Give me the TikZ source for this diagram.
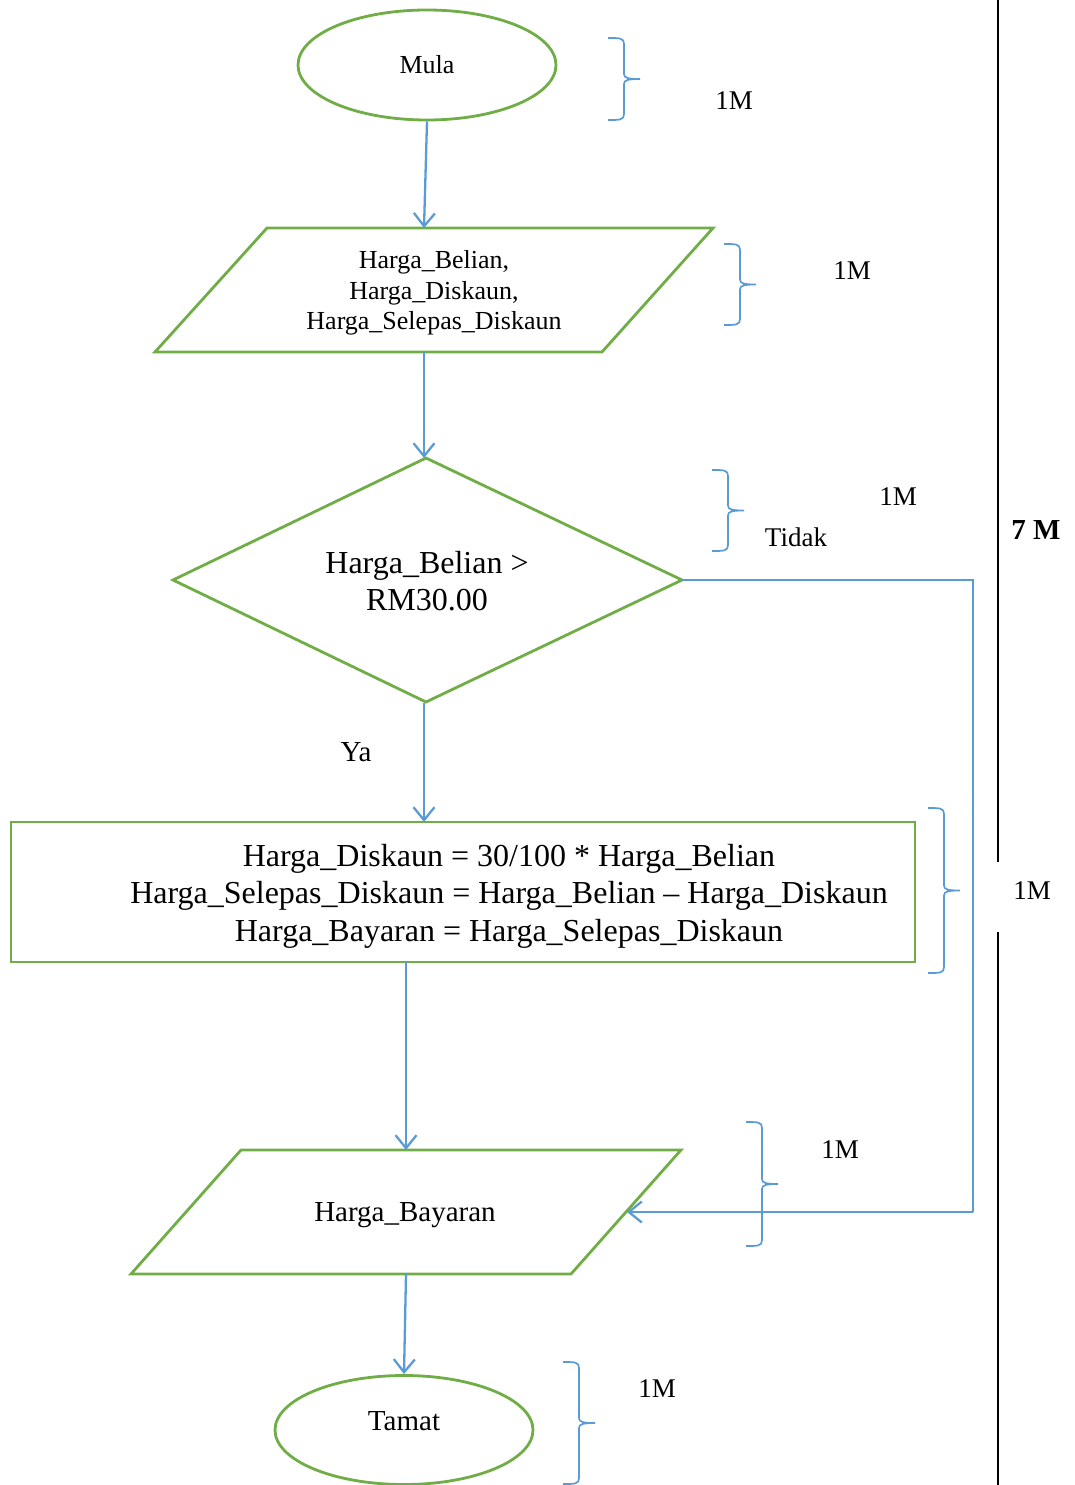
\documentclass[tikz,border=0pt]{standalone}
\usepackage{fontspec}
\setmainfont{Liberation Serif}
\usetikzlibrary{arrows.meta,shapes.geometric}
\definecolor{fgreen}{HTML}{70AD47}
\definecolor{fblue}{HTML}{5B9BD5}
\newcommand{\markbrace}[3]{% left x, top y, bottom y
  \pgfmathsetmacro{\bm}{(#2+#3)/2}
  \draw[bracepath] (#1,#2) .. controls ({#1+12},#2) and ({#1+16},#2) .. ({#1+16},{#2+6})
    -- ({#1+16},{\bm-5}) .. controls ({#1+16},{\bm-1}) and ({#1+20},\bm) .. ({#1+32},\bm)
    .. controls ({#1+20},\bm) and ({#1+16},{\bm+1}) .. ({#1+16},{\bm+5})
    -- ({#1+16},{#3-6}) .. controls ({#1+16},#3) and ({#1+12},#3) .. (#1,#3);
}
\begin{document}
\begin{tikzpicture}[x=1pt,y=-1pt,
  shapeline/.style={draw=fgreen,line width=2.8pt},
  flow/.style={draw=fblue,line width=2.3pt,-{Straight Barb[length=13pt,width=21pt,line width=2.3pt]}},
  sideflow/.style={draw=fblue,line width=1.8pt},
  bracepath/.style={draw=fblue,line width=1.7pt},
  txtA/.style={font=\fontsize{26}{30.5}\selectfont,inner sep=0pt,align=center},
  txtB/.style={font=\fontsize{32}{37.5}\selectfont,inner sep=0pt,align=center},
  txtC/.style={font=\fontsize{29}{34}\selectfont,inner sep=0pt,align=center},
  marktext/.style={font=\fontsize{27}{31}\selectfont,inner sep=0pt},
  markbold/.style={font=\fontsize{29}{34}\selectfont\bfseries,inner sep=0pt},
  scaleline/.style={draw=black,line width=2.6pt}]
\useasboundingbox (0,0) rectangle (1074,1485);

% Start
\node[ellipse,shapeline,minimum width=258pt,minimum height=110pt,inner sep=0pt,txtA] (mula) at (427,65) {Mula};

% Input parallelogram
\coordinate (p1tl) at (267,228);
\coordinate (p1tr) at (713,228);
\coordinate (p1br) at (602,352);
\coordinate (p1bl) at (155,352);
\draw[shapeline] (p1tl) -- (p1tr) -- (p1br) -- (p1bl) -- cycle;
\coordinate (p1top) at (424,228);
\coordinate (p1bot) at (424,352);
\node[txtA] (p1text) at (434,293) {Harga\_Belian,\\Harga\_Diskaun,\\Harga\_Selepas\_Diskaun};

% Decision
\coordinate (dtop) at (426,458);
\coordinate (dright) at (682,580);
\coordinate (dbot) at (426,702);
\coordinate (dleft) at (173,580);
\draw[shapeline] (dtop) -- (dright) -- (dbot) -- (dleft) -- cycle;
\coordinate (dout) at (424,703);
\node[txtB] (dtext) at (427,581) {Harga\_Belian >\\RM30.00};

% Process
\draw[shapeline] (11,822) rectangle (915,962);
\coordinate (prtop) at (424,822);
\coordinate (prbot) at (406,962);
\node[txtB] (prtext) at (509,896) {Harga\_Diskaun = 30/100 * Harga\_Belian\\Harga\_Selepas\_Diskaun = Harga\_Belian – Harga\_Diskaun\\Harga\_Bayaran = Harga\_Selepas\_Diskaun};

% Output parallelogram
\coordinate (p2tl) at (241,1150);
\coordinate (p2tr) at (681,1150);
\coordinate (p2br) at (571,1274);
\coordinate (p2bl) at (131,1274);
\draw[shapeline] (p2tl) -- (p2tr) -- (p2br) -- (p2bl) -- cycle;
\coordinate (p2top) at (406,1150);
\coordinate (p2bot) at (406,1274);
\coordinate (p2right) at (627,1212);
\node[txtC] (p2text) at (405,1215) {Harga\_Bayaran};

% End
\node[ellipse,shapeline,minimum width=258pt,minimum height=109pt,inner sep=0pt] (tamat) at (404,1430) {};
\node[txtC] (tamattext) at (404,1421) {Tamat};

% Connectors
\draw[flow] (mula.south) -- (p1top);
\draw[flow] (p1bot) -- (424,458);
\draw[flow] (dout) -- (prtop);
\draw[flow] (prbot) -- (p2top);
\draw[flow] (p2bot) -- (tamat.north);
\coordinate (sideA) at (973,580);
\coordinate (sideB) at (973,1212);
\draw[sideflow] (dright) -- (sideA) -- (sideB);
\draw[flow] (sideB) -- (p2right);

% Branch labels
\node[txtC] (ya) at (356,752) {Ya};
\node[marktext] (tidak) at (796,537) {Tidak};

% Marks braces
\markbrace{608}{38}{120}
\markbrace{724}{244}{325}
\markbrace{712}{470}{551}
\markbrace{928}{808}{973}
\markbrace{746}{1122}{1246}
\markbrace{563}{1362}{1484}

\node[marktext] (m1) at (734,101) {1M};
\node[marktext] (m2) at (852,271) {1M};
\node[marktext] (m3) at (898,497) {1M};
\node[marktext] (m4) at (1032,891) {1M};
\node[marktext] (m5) at (840,1150) {1M};
\node[marktext] (m6) at (657,1389) {1M};

% Total
\draw[scaleline] (998,0) -- (998,862);
\draw[scaleline] (998,932) -- (998,1485);
\node[markbold] (total) at (1036,530) {7 M};
\end{tikzpicture}
\end{document}
